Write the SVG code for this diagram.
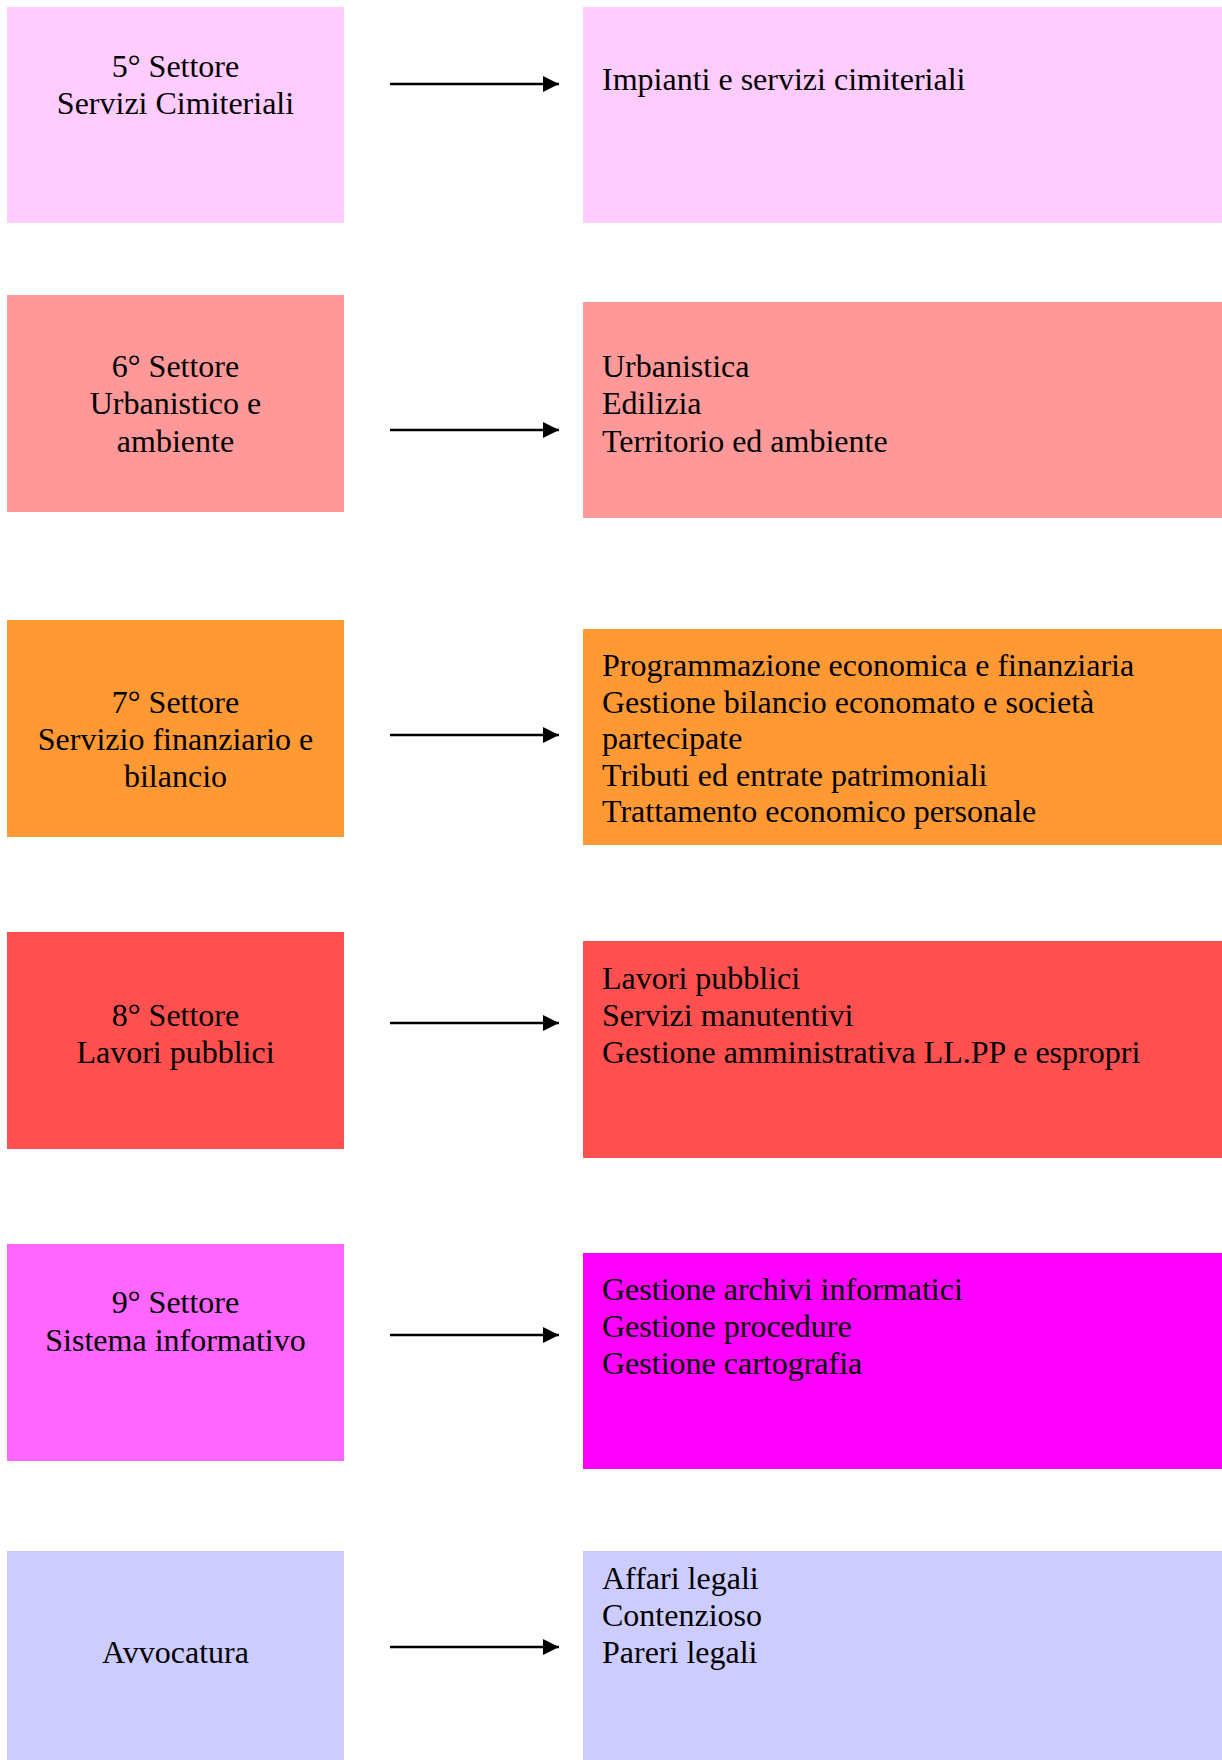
<svg xmlns="http://www.w3.org/2000/svg" width="1222" height="1760" viewBox="0 0 1222 1760">
<defs>
<style>
text{font-family:"Liberation Serif","Times New Roman",serif;font-size:32px;fill:#000}
.c{text-anchor:middle}
.arr{stroke:#000;stroke-width:2.5;fill:none}
.hd{fill:#000}
</style>
<marker id="ah" markerWidth="16" markerHeight="16" refX="16" refY="8" orient="auto" markerUnits="userSpaceOnUse"><path d="M0,0 L16,8 L0,16 Z" class="hd"/></marker>
</defs>
<rect width="1222" height="1760" fill="#fff"/>
<g id="n5">
<rect x="7" y="7" width="337" height="216" fill="#FFCCFF"/>
<text class="c" x="175.5" y="77">5° Settore</text>
<text class="c" x="175.5" y="114">Servizi Cimiteriali</text>
</g>
<g id="f5">
<rect x="583" y="7" width="639" height="216" fill="#FFCCFF"/>
<text x="602" y="90">Impianti e servizi cimiteriali</text>
</g>
<g id="n6">
<rect x="7" y="295" width="337" height="217" fill="#FF9999"/>
<text class="c" x="175.5" y="377">6° Settore</text>
<text class="c" x="175.5" y="414">Urbanistico e</text>
<text class="c" x="175.5" y="452">ambiente</text>
</g>
<g id="f6">
<rect x="583" y="302" width="639" height="216" fill="#FF9999"/>
<text x="602" y="377">Urbanistica</text>
<text x="602" y="414">Edilizia</text>
<text x="602" y="452">Territorio ed ambiente</text>
</g>
<g id="n7">
<rect x="7" y="620" width="337" height="217" fill="#FF9933"/>
<text class="c" x="175.5" y="713">7° Settore</text>
<text class="c" x="175.5" y="750">Servizio finanziario e</text>
<text class="c" x="175.5" y="787">bilancio</text>
</g>
<g id="f7">
<rect x="583" y="629" width="639" height="216" fill="#FF9933"/>
<text x="602" y="676">Programmazione economica e finanziaria</text>
<text x="602" y="713">Gestione bilancio economato e società</text>
<text x="602" y="749">partecipate</text>
<text x="602" y="786">Tributi ed entrate patrimoniali</text>
<text x="602" y="822">Trattamento economico personale</text>
</g>
<g id="n8">
<rect x="7" y="932" width="337" height="217" fill="#FF5050"/>
<text class="c" x="175.5" y="1026">8° Settore</text>
<text class="c" x="175.5" y="1063">Lavori pubblici</text>
</g>
<g id="f8">
<rect x="583" y="941" width="639" height="217" fill="#FF5050"/>
<text x="602" y="989">Lavori pubblici</text>
<text x="602" y="1026">Servizi manutentivi</text>
<text x="602" y="1063">Gestione amministrativa LL.PP e espropri</text>
</g>
<g id="n9">
<rect x="7" y="1244" width="337" height="217" fill="#FF66FF"/>
<text class="c" x="175.5" y="1313">9° Settore</text>
<text class="c" x="175.5" y="1351">Sistema informativo</text>
</g>
<g id="f9">
<rect x="583" y="1253" width="639" height="216" fill="#FF00FF"/>
<text x="602" y="1300">Gestione archivi informatici</text>
<text x="602" y="1337">Gestione procedure</text>
<text x="602" y="1374">Gestione cartografia</text>
</g>
<g id="navv">
<rect x="7" y="1551" width="337" height="209" fill="#CCCCFF"/>
<text class="c" x="175.5" y="1663">Avvocatura</text>
</g>
<g id="favv">
<rect x="583" y="1551" width="639" height="209" fill="#CCCCFF"/>
<text x="602" y="1589">Affari legali</text>
<text x="602" y="1626">Contenzioso</text>
<text x="602" y="1663">Pareri legali</text>
</g>
<g id="connectors">
<line class="arr" x1="390" y1="84" x2="559" y2="84" marker-end="url(#ah)"/>
<line class="arr" x1="390" y1="430" x2="559" y2="430" marker-end="url(#ah)"/>
<line class="arr" x1="390" y1="735" x2="559" y2="735" marker-end="url(#ah)"/>
<line class="arr" x1="390" y1="1023" x2="559" y2="1023" marker-end="url(#ah)"/>
<line class="arr" x1="390" y1="1335" x2="559" y2="1335" marker-end="url(#ah)"/>
<line class="arr" x1="390" y1="1647" x2="559" y2="1647" marker-end="url(#ah)"/>
</g>
</svg>
